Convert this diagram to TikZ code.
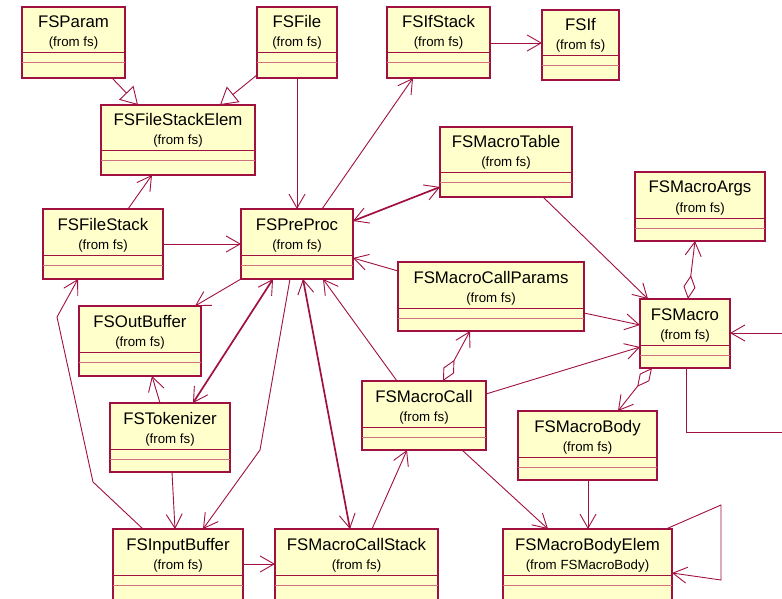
\documentclass[tikz,border=0pt]{standalone}
\usepackage{fontspec}
\setmainfont{Liberation Sans}
\usetikzlibrary{arrows.meta,calc}
\definecolor{umlred}{RGB}{160,16,64}
\definecolor{umlfill}{RGB}{255,255,204}
\definecolor{umlsep}{RGB}{208,112,128}
\tikzset{
  clsbox/.style={draw=umlred, fill=umlfill, line width=1.2pt, rectangle, inner sep=0pt, outer sep=0pt},
  clstitle/.style={inner sep=0pt, font=\fontsize{16.8}{18}\selectfont, text=black},
  clssub/.style={inner sep=0pt, font=\fontsize{13.3}{14}\selectfont, text=black},
  sepA/.style={draw=umlred, line width=1pt},
  sepB/.style={draw=umlsep, line width=1pt},
  barb/.tip={Straight Barb[length=14pt,width=16pt,line width=0.9pt]},
  assoc/.style={draw=umlred, line width=0.9pt, -barb},
  biassoc/.style={draw=umlred, line width=1.7pt, barb-barb},
  gen/.style={draw=umlred, line width=0.9pt, -{Triangle[open,length=17pt,width=20pt,fill=white,line width=0.9pt]}},
  agg/.style={draw=umlred, line width=0.9pt, {Diamond[open,length=24pt,width=12pt,fill=white,line width=0.9pt]}-barb},
  plainline/.style={draw=umlred, line width=0.9pt},
}
\newcommand\umlclass[7]{%
  \node[clsbox, minimum width={(#4-#2)*1pt}, minimum height={(#5-#3)*1pt}] (#1) at ({(#2+#4)/2},{(#3+#5)/2}) {};
  \draw[sepA] ($(#1.north west)+(0,46)$) -- ($(#1.north east)+(0,46)$);
  \draw[sepB] ($(#1.north west)+(0,56)$) -- ($(#1.north east)+(0,56)$);
  \node[clstitle, anchor=base] (#1-t) at ({(#2+#4)/2},{#3+21}) {#6};
  \node[clssub, anchor=base] (#1-s) at ({(#2+#4)/2},{#3+40}) {#7};
}
\begin{document}
\begin{tikzpicture}[x=1pt,y=-1pt]
\useasboundingbox (0,0) rectangle (782,599);
\clip (0,0) rectangle (782,599);
\fill[white] (0,0) rectangle (782,599);

\umlclass{fsparam}{22}{7}{125}{78}{FSParam}{(from fs)}
\umlclass{fsfile}{257}{7}{337}{78}{FSFile}{(from fs)}
\umlclass{fsifstack}{387}{7}{490}{78}{FSIfStack}{(from fs)}
\umlclass{fsif}{542}{10}{619}{80}{FSIf}{(from fs)}
\umlclass{fsfse}{101}{105}{255}{175}{FSFileStackElem}{(from fs)}
\umlclass{fsmacrotable}{440}{127}{572}{197}{FSMacroTable}{(from fs)}
\umlclass{fsmacroargs}{635}{172}{765}{241}{FSMacroArgs}{(from fs)}
\umlclass{fsfilestack}{43}{209}{163}{279}{FSFileStack}{(from fs)}
\umlclass{fspreproc}{241}{209}{353}{279}{FSPreProc}{(from fs)}
\umlclass{fsmcp}{398}{262}{584}{331}{FSMacroCallParams}{(from fs)}
\umlclass{fsmacro}{640}{299}{730}{368}{FSMacro}{(from fs)}
\umlclass{fsoutbuffer}{79}{306}{201}{376}{FSOutBuffer}{(from fs)}
\umlclass{fsmacrocall}{362}{381}{486}{450}{FSMacroCall}{(from fs)}
\umlclass{fstokenizer}{110}{403}{230}{472}{FSTokenizer}{(from fs)}
\umlclass{fsmacrobody}{518}{411}{657}{480}{FSMacroBody}{(from fs)}
\umlclass{fsinputbuffer}{113}{529}{243}{601}{FSInputBuffer}{(from fs)}
\umlclass{fsmcstack}{275}{529}{438}{601}{FSMacroCallStack}{(from fs)}
\umlclass{fsmbe}{503}{529}{672}{601}{FSMacroBodyElem}{(from FSMacroBody)}

% free points
\coordinate (rin) at (782,333);
\coordinate (rb1) at (686,432);
\coordinate (rout) at (782,432);
\coordinate (ib1) at (260,450);
\coordinate (fb1) at (93,482);
\coordinate (fb2) at (57,317);
\coordinate (lp1) at (721,505);
\coordinate (lp2) at (721,580);

% generalizations
\draw[gen] ([xshift=90pt]fsparam.south west) -- ([xshift=37pt]fsfse.north west);
\draw[gen] ([yshift=3pt]fsfile.south west) -- ([xshift=119pt]fsfse.north west);

% associations
\draw[assoc] ([xshift=40pt]fsfile.south west) -- ([xshift=56pt]fspreproc.north west);
\draw[assoc] ([xshift=81pt]fspreproc.north west) -- ([xshift=26pt]fsifstack.south west);
\draw[assoc] ([yshift=-36pt]fsifstack.north east) -- ([yshift=-33pt]fsif.north west);
\draw[assoc] ([xshift=85pt]fsfilestack.north west) -- ([xshift=51pt]fsfse.south west);
\draw[assoc] ([yshift=-35pt]fsfilestack.north east) -- ([yshift=-35pt]fspreproc.north west);
\draw[biassoc] ([yshift=-12pt]fspreproc.north east) -- ([yshift=10pt]fsmacrotable.south west);
\draw[assoc] ([yshift=-9pt]fsmcp.north west) -- ([yshift=-49pt]fspreproc.north east);
\draw[assoc] ([yshift=-51pt]fsmcp.north east) -- ([yshift=-26pt]fsmacro.north west);
\draw[assoc] ([xshift=103pt]fsmacrotable.south west) -- ([xshift=8pt]fsmacro.north west);
\draw[agg] ([xshift=48pt]fsmacro.north west) -- ([xshift=60pt]fsmacroargs.south west);
\draw[assoc] (rin) -- ([yshift=-34pt]fsmacro.north east);
\draw[plainline] ([xshift=46pt]fsmacro.south west) -- (rb1) -- (rout);
\draw[agg] ([xshift=12pt]fsmacro.south west) -- ([xshift=100pt]fsmacrobody.north west);
\draw[assoc] ([yshift=-13pt]fsmacrocall.north east) -- ([yshift=-48pt]fsmacro.north west);
\draw[agg] ([xshift=81pt]fsmacrocall.north west) -- ([xshift=72pt]fsmcp.south west);
\draw[assoc] ([xshift=35pt]fsmacrocall.north west) -- ([xshift=82pt]fspreproc.south west);
\draw[biassoc] ([xshift=32pt]fspreproc.south west) -- ([xshift=83pt]fstokenizer.north west);
\draw[assoc] (fspreproc.south west) -- ([xshift=116pt]fsoutbuffer.north west);
\draw[biassoc] ([xshift=62pt]fspreproc.south west) -- ([xshift=75pt]fsmcstack.north west);
\draw[assoc] ([xshift=49pt]fspreproc.south west) -- (ib1) -- ([xshift=90pt]fsinputbuffer.north west);
\draw[assoc] ([xshift=50pt]fstokenizer.north west) -- ([xshift=73pt]fsoutbuffer.south west);
\draw[assoc] ([xshift=62pt]fstokenizer.south west) -- ([xshift=62pt]fsinputbuffer.north west);
\draw[assoc] ([xshift=30pt]fsinputbuffer.north west) -- (fb1) -- (fb2) -- ([xshift=35pt]fsfilestack.south west);
\draw[assoc] ([yshift=-35pt]fsinputbuffer.north east) -- ([yshift=-35pt]fsmcstack.north west);
\draw[assoc] ([xshift=97pt]fsmcstack.north west) -- ([xshift=45pt]fsmacrocall.south west);
\draw[assoc] ([xshift=100pt]fsmacrocall.south west) -- ([xshift=45pt]fsmbe.north west);
\draw[assoc] ([xshift=70pt]fsmacrobody.south west) -- ([xshift=85pt]fsmbe.north west);
\draw[assoc] ([xshift=163pt]fsmbe.north west) -- (lp1) -- (lp2) -- ([yshift=-44pt]fsmbe.north east);
\end{tikzpicture}
\end{document}
